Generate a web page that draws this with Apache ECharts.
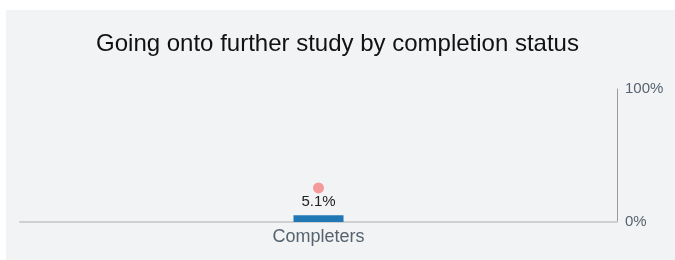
<!DOCTYPE html>
<html><head><meta charset="utf-8">
<script src="https://cdn.jsdelivr.net/npm/echarts@6/dist/echarts.min.js"></script>
<style>html,body{margin:0;padding:0;background:#fff;}#c{width:675px;height:260px;}</style>
</head><body><div id="c"></div>
<script>
const categories = ['Completers'];
const barValues = [5.1];
const dotValues = [25.6];
const yTicks = [0, 100];

const chart = echarts.init(document.getElementById('c'), null, {renderer: 'canvas'});
const FONT = '"Liberation Sans", Arial, sans-serif';
chart.setOption({
  backgroundColor: '#ffffff',
  animation: false,
  graphic: [{type: 'rect', z: -10, silent: true, shape: {x: 6, y: 10, width: 669, height: 250}, style: {fill: '#f2f3f5'}}],
  title: {
    text: 'Going onto further study by completion status',
    left: 'center', top: 27,
    textStyle: {fontFamily: FONT, fontSize: 24, fontWeight: 'normal', color: '#111'}
  },
  grid: {left: 20, right: 58, top: 89, bottom: 38},
  xAxis: {
    type: 'category', data: categories,
    axisLine: {lineStyle: {color: '#cfd0d2', width: 2}},
    axisTick: {show: false},
    axisLabel: {fontFamily: FONT, fontSize: 18, color: '#56636f', margin: 6}
  },
  yAxis: {
    type: 'value', position: 'right', min: yTicks[0], max: yTicks[1], interval: 100,
    axisLine: {show: true, lineStyle: {color: '#959da4', width: 1}},
    axisTick: {show: false},
    splitLine: {show: false},
    axisLabel: {fontFamily: FONT, fontSize: 15, color: '#56636f', margin: 8, formatter: '{value}%'}
  },
  series: [
    {
      type: 'bar', data: barValues, barWidth: 50, itemStyle: {color: '#1f77b4'},
      label: {show: true, position: 'top', distance: 6, formatter: p => p.value + '%', fontFamily: FONT, fontSize: 15, color: '#222'}
    },
    {
      type: 'scatter', data: dotValues, symbolSize: 11, itemStyle: {color: '#f59a9a', opacity: 1}, z: 5
    }
  ]
});
</script></body></html>
